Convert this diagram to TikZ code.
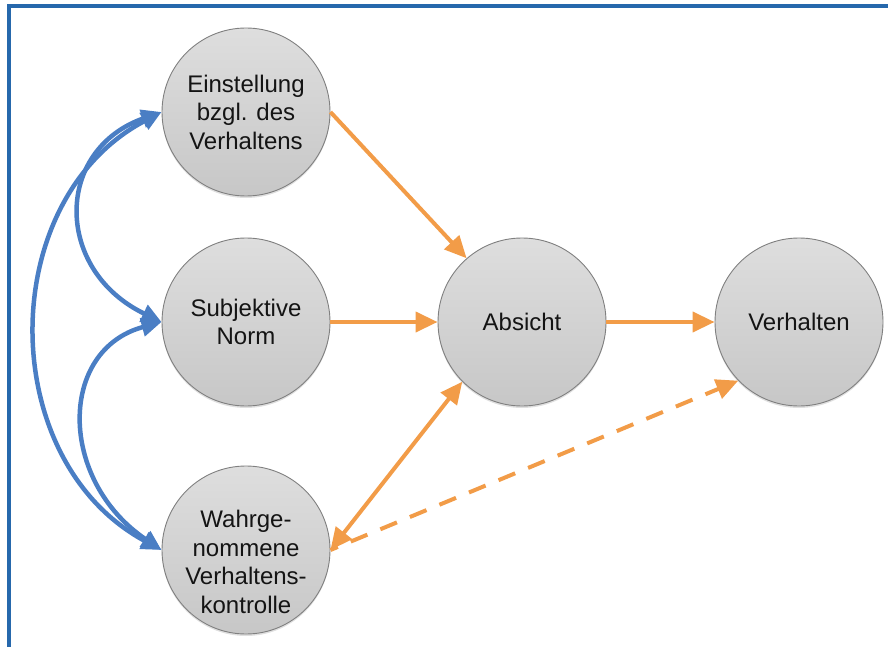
\documentclass[tikz,border=0pt]{standalone}
\usepackage{fontspec}
\setmainfont{Liberation Sans}
\usetikzlibrary{arrows.meta,shadows}
\definecolor{frameblue}{RGB}{38,104,172}
\definecolor{arrblue}{RGB}{74,126,196}
\definecolor{arrorange}{RGB}{242,156,72}
\begin{document}
\begin{tikzpicture}[x=1pt,y=-1pt,
  balltext/.style={align=center, text=black!92, font=\fontsize{24}{28.5}\selectfont},
  ball/.style={circle, minimum size=168pt, inner sep=0pt, draw=black!50, line width=0.9pt,
    top color=black!13, bottom color=black!22, balltext,
    drop shadow={opacity=0.25, shadow xshift=0pt, shadow yshift=-2pt}},
  oarr/.style={draw=arrorange, line width=4pt, -{Triangle[length=22pt,width=20pt]}},
  oboth/.style={draw=arrorange, line width=4pt, {Triangle[length=22pt,width=20pt]}-{Triangle[length=22pt,width=20pt]}},
  odash/.style={oarr, dash pattern=on 18pt off 14pt, dash phase=-22pt},
  barr/.style={draw=arrblue, line width=4.5pt, {Triangle[length=20pt,width=18pt]}-{Triangle[length=20pt,width=18pt]}},
  frame/.style={draw=frameblue, line width=4pt}
]
\useasboundingbox (0,0) rectangle (888,647);
\draw[frame] (9,647) -- (9,6) -- (888,6);

\node[ball] (ein)  at (246,112) {Einstellung\\bzgl. des\\Verhaltens};
\node[ball] (sub)  at (246,322) {Subjektive\\Norm};
\node[ball, label={[balltext, yshift=-12pt]center:Wahrge-\\nommene\\Verhaltens-\\kontrolle}] (wahr) at (246,550) {};
\node[ball] (abs)  at (522,322) {Absicht};
\node[ball] (verh) at (799,322) {Verhalten};

\draw[barr] (ein.west) .. controls (-5,200) and (-5,460) .. (wahr.west);
\draw[barr] (ein.west) .. controls (54,150) and (54,270) .. (sub.west);
\draw[barr] (sub.west) .. controls (58,350) and (58,480) .. (wahr.west);

\draw[oarr] (ein.east) -- (abs.131);
\draw[oarr] (sub.east) -- (abs.west);
\draw[oarr] (abs.east) -- (verh.west);
\draw[oboth] (wahr.east) -- (abs.225);
\draw[odash] (wahr.east) -- (verh.224);
\end{tikzpicture}
\end{document}
